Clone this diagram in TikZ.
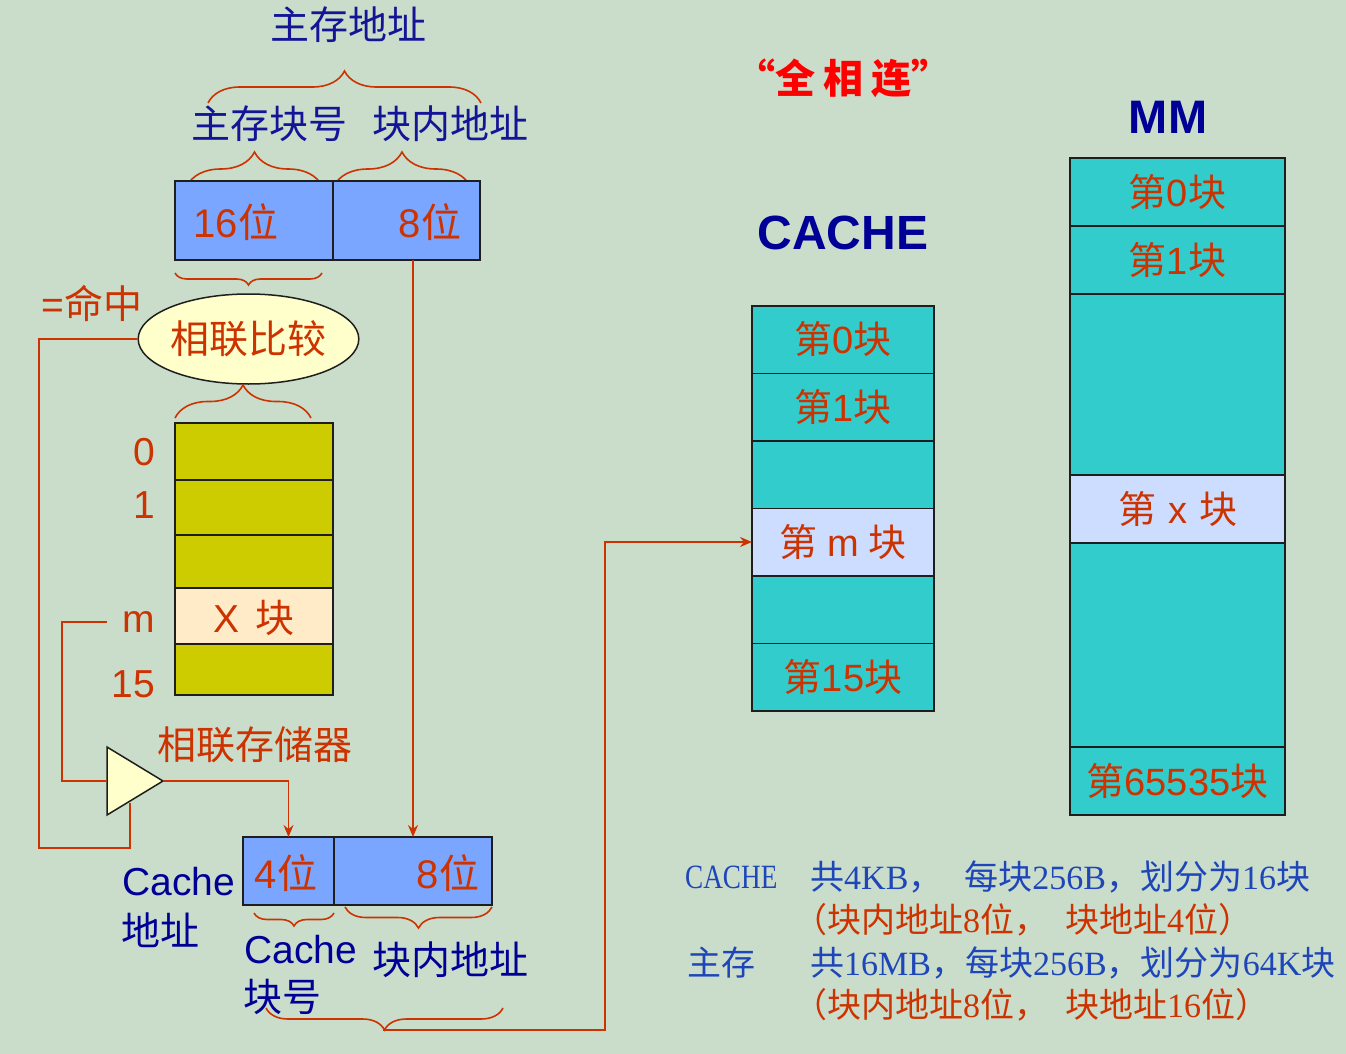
\documentclass[tikz,border=0pt]{standalone}
\usepackage{fontspec}
\setmainfont{Liberation Sans}
\newfontfamily\cjk{Noto Sans CJK SC}
\newfontfamily\ser{Liberation Serif}
\newfontfamily\sern[FakeStretch=0.8]{Liberation Serif}
\usetikzlibrary{shapes.geometric,arrows.meta,decorations.pathreplacing,calc}
\newcommand\zh[1]{{\cjk #1}}
\definecolor{bg}{RGB}{202,221,203}
\definecolor{ink}{RGB}{20,20,150}
\definecolor{navy}{RGB}{0,0,150}
\definecolor{rust}{RGB}{204,51,0}
\definecolor{ablue}{RGB}{122,166,255}
\definecolor{olive}{RGB}{204,204,0}
\definecolor{peach}{RGB}{255,235,200}
\definecolor{teal}{RGB}{51,204,204}
\definecolor{lav}{RGB}{204,221,255}
\definecolor{cream}{RGB}{255,255,204}
\definecolor{tblue}{RGB}{30,70,185}
\definecolor{edge}{RGB}{30,30,30}
\tikzset{
 box/.style={draw=edge,line width=1.5pt,inner sep=0pt,outer sep=0pt},
 wire/.style={draw=rust,line width=1.6pt},
 arr/.style={wire,-{Stealth[length=12pt,width=10pt]},fill=none},
 brc/.style={draw=rust,line width=1.6pt,decorate,decoration={brace,amplitude=#1}},
 brcm/.style={draw=rust,line width=1.6pt,decorate,decoration={brace,mirror,amplitude=#1}},
 bluelbl/.style={font=\fontsize{39}{44}\selectfont,text=ink,inner sep=0pt},
 redlbl/.style={font=\fontsize{39}{44}\selectfont,text=rust,inner sep=0pt},
 numlbl/.style={font=\fontsize{40}{44}\selectfont,text=rust,inner sep=0pt},
 cachelbl/.style={font=\fontsize{39}{44}\selectfont,text=navy,inner sep=0pt},
 blk/.style={font=\fontsize{38}{44}\selectfont,text=rust},
 note/.style={font=\fontsize{34}{40}\selectfont,inner sep=0pt,anchor=west},
}
\begin{document}
\begin{tikzpicture}[x=1pt,y=-1pt]
\path[use as bounding box,fill=bg] (0,0) rectangle (1346,1054);

% ---------- main memory address ----------
\node[bluelbl] (tmain) at (348,25) {\zh{主存地址}};
\draw[brc=32] (208,103) -- (481,103);
\node[bluelbl] (tblk) at (269,124) {\zh{主存块号}};
\node[bluelbl] (tin) at (450,124) {\zh{块内地址}};
\draw[brc=34] (187,186) -- (322,186);
\draw[brc=34] (334,186) -- (470,186);

\node[box,fill=ablue,minimum width=158pt,minimum height=79pt] (a16) at (254,220.5) {};
\node[box,fill=ablue,minimum width=147pt,minimum height=79pt] (a8) at (406.5,220.5) {};
\node[numlbl] (t16) at (236,222) {16\zh{位}};
\node[numlbl] (t8) at (430,222) {8\zh{位}};
\draw[brcm=12] (175,273) -- (322,273);

% ---------- comparator ----------
\node[redlbl] (hit) at (92,303) {=\zh{命中}};
\node[ellipse,draw=edge,fill=cream,line width=1.5pt,minimum width=215pt,minimum height=90pt,inner sep=0pt,
      font=\cjk\fontsize{39}{44}\selectfont,text=rust] (cmp) at (248.5,339) {相联比较};
\draw[brc=33] (175,418) -- (311,418);

% ---------- associative memory ----------
\node[box,fill=olive,minimum width=158pt,minimum height=57pt] (r0) at (254,451.5) {};
\node[box,fill=olive,minimum width=158pt,minimum height=55pt] (r1) at (254,507.5) {};
\node[box,fill=olive,minimum width=158pt,minimum height=53pt] (r2) at (254,561.5) {};
\node[box,fill=peach,minimum width=158pt,minimum height=56pt] (rx) at (254,616) {};
\node[box,fill=olive,minimum width=158pt,minimum height=51pt] (r15) at (254,669.5) {};
\node[redlbl] (txx) at (254,618) {X\hspace{16pt}\zh{块}};
\node[redlbl,anchor=east] (l0) at (155,452) {0};
\node[redlbl,anchor=east] (l1) at (155,505) {1};
\node[redlbl,anchor=east] (lm) at (155,622) {m};
\node[redlbl,anchor=east] (l15) at (155,684) {15};
\node[redlbl] (tam) at (255,745) {\zh{相联存储器}};

% ---------- gate ----------
\coordinate (tA) at (107,747);
\coordinate (tB) at (107,815);
\coordinate (tC) at (163,781);
\coordinate (tI) at (107,781);
\draw[draw=edge,fill=cream,line width=1.5pt] (tA) -- (tC) -- (tB) -- cycle;

% ---------- cache address ----------
\node[box,fill=ablue,minimum width=91pt,minimum height=68pt] (b4) at (288.5,871) {};
\node[box,fill=ablue,minimum width=158pt,minimum height=68pt] (b8) at (413,871) {};
\node[numlbl] (t4b) at (286,873) {4\zh{位}};
\node[numlbl] (t8b) at (448,873) {8\zh{位}};
\node[cachelbl] (cl1) at (179,882) {Cache};
\node[cachelbl,anchor=west] (cl2) at (121,930) {\zh{地址}};
\draw[brcm=13] (254,913) -- (334,913);
\draw[brcm=21] (345,907) -- (492,907);
\node[cachelbl] (cb1) at (301,950) {Cache};
\node[cachelbl,anchor=west] (cb2) at (243,997) {\zh{块号}};
\node[cachelbl] (cb3) at (450,960) {\zh{块内地址}};
\draw[brcm=22] (266,1008) -- (503,1008);
\coordinate (btip) at (383,1030);
\coordinate (bturn) at (605,1030);

% ---------- wires ----------
\coordinate (ms) at (107,622);
\coordinate (mc) at (62,622);
\draw[wire] (ms) -- (mc) |- (tI);
\coordinate (hL) at (39,848);
\coordinate (hT) at (130,803);
\draw[wire] (cmp.west) -| (hL) -| (hT);
\draw[arr] (tC) -| (b4.north);
\draw[arr] (b8.north |- a8.south) -- (b8.north);

% ---------- title ----------
\node[font=\cjk\bfseries\fontsize{40}{44}\selectfont,text=red,inner sep=0pt] (title) at (843,78)
  {“全\hspace{8pt}相\hspace{8pt}连”};

% ---------- cache ----------
\node[font=\bfseries\fontsize{48}{54}\selectfont,text=navy,inner sep=0pt] (hc) at (843,233) {CACHE};
\node[box,fill=teal,minimum width=182pt,minimum height=67.5pt,blk] (c0) at (843,339.5) {\zh{第}0\zh{块}};
\node[box,fill=teal,minimum width=182pt,minimum height=67.5pt,blk] (c1) at (843,407) {\zh{第}1\zh{块}};
\node[box,fill=teal,minimum width=182pt,minimum height=67.5pt] (c2) at (843,474.5) {};
\node[box,fill=lav,minimum width=182pt,minimum height=67.5pt,blk] (cm) at (843,542) {\zh{第}\hspace{10pt}m\hspace{10pt}\zh{块}};
\node[box,fill=teal,minimum width=182pt,minimum height=67.5pt] (c4) at (843,609.5) {};
\node[box,fill=teal,minimum width=182pt,minimum height=67.5pt,blk] (c15) at (843,677) {\zh{第}15\zh{块}};
\draw[arr] (btip) -- (bturn) |- (cm.west);

% ---------- main memory ----------
\node[font=\bfseries\fontsize{47}{54}\selectfont,text=navy,inner sep=0pt] (hm) at (1168,117) {MM};
\node[box,fill=teal,minimum width=215pt,minimum height=68pt,blk] (m0) at (1177.5,192) {\zh{第}0\zh{块}};
\node[box,fill=teal,minimum width=215pt,minimum height=68pt,blk] (m1) at (1177.5,260) {\zh{第}1\zh{块}};
\node[box,fill=teal,minimum width=215pt,minimum height=181pt] (m2) at (1177.5,384.5) {};
\node[box,fill=lav,minimum width=215pt,minimum height=68pt,blk] (mx) at (1177.5,509) {\zh{第}\hspace{12pt}x\hspace{12pt}\zh{块}};
\node[box,fill=teal,minimum width=215pt,minimum height=204pt] (m4) at (1177.5,645) {};
\node[box,fill=teal,minimum width=215pt,minimum height=68pt,blk] (m5) at (1177.5,781) {\zh{第}65535\zh{块}};

% ---------- notes ----------
\node[note,text=tblue] (n1) at (685,877) {\sern CACHE};
\node[note,text=tblue] (n2) at (810,877) {\ser\zh{共}4KB\zh{，}\hspace{22pt}\zh{每块}256B\zh{，划分为}16\zh{块}};
\node[note,text=rust] (n3) at (793,920) {\ser\zh{（块内地址}8\zh{位，}\hspace{17pt}\zh{块地址}4\zh{位）}};
\node[note,text=tblue] (n4) at (687,963) {\zh{主存}};
\node[note,text=tblue] (n5) at (810,963) {\ser\zh{共}16MB\zh{，每块}256B\zh{，划分为}64K\zh{块}};
\node[note,text=rust] (n6) at (793,1005) {\ser\zh{（块内地址}8\zh{位，}\hspace{17pt}\zh{块地址}16\zh{位）}};
\end{tikzpicture}
\end{document}
